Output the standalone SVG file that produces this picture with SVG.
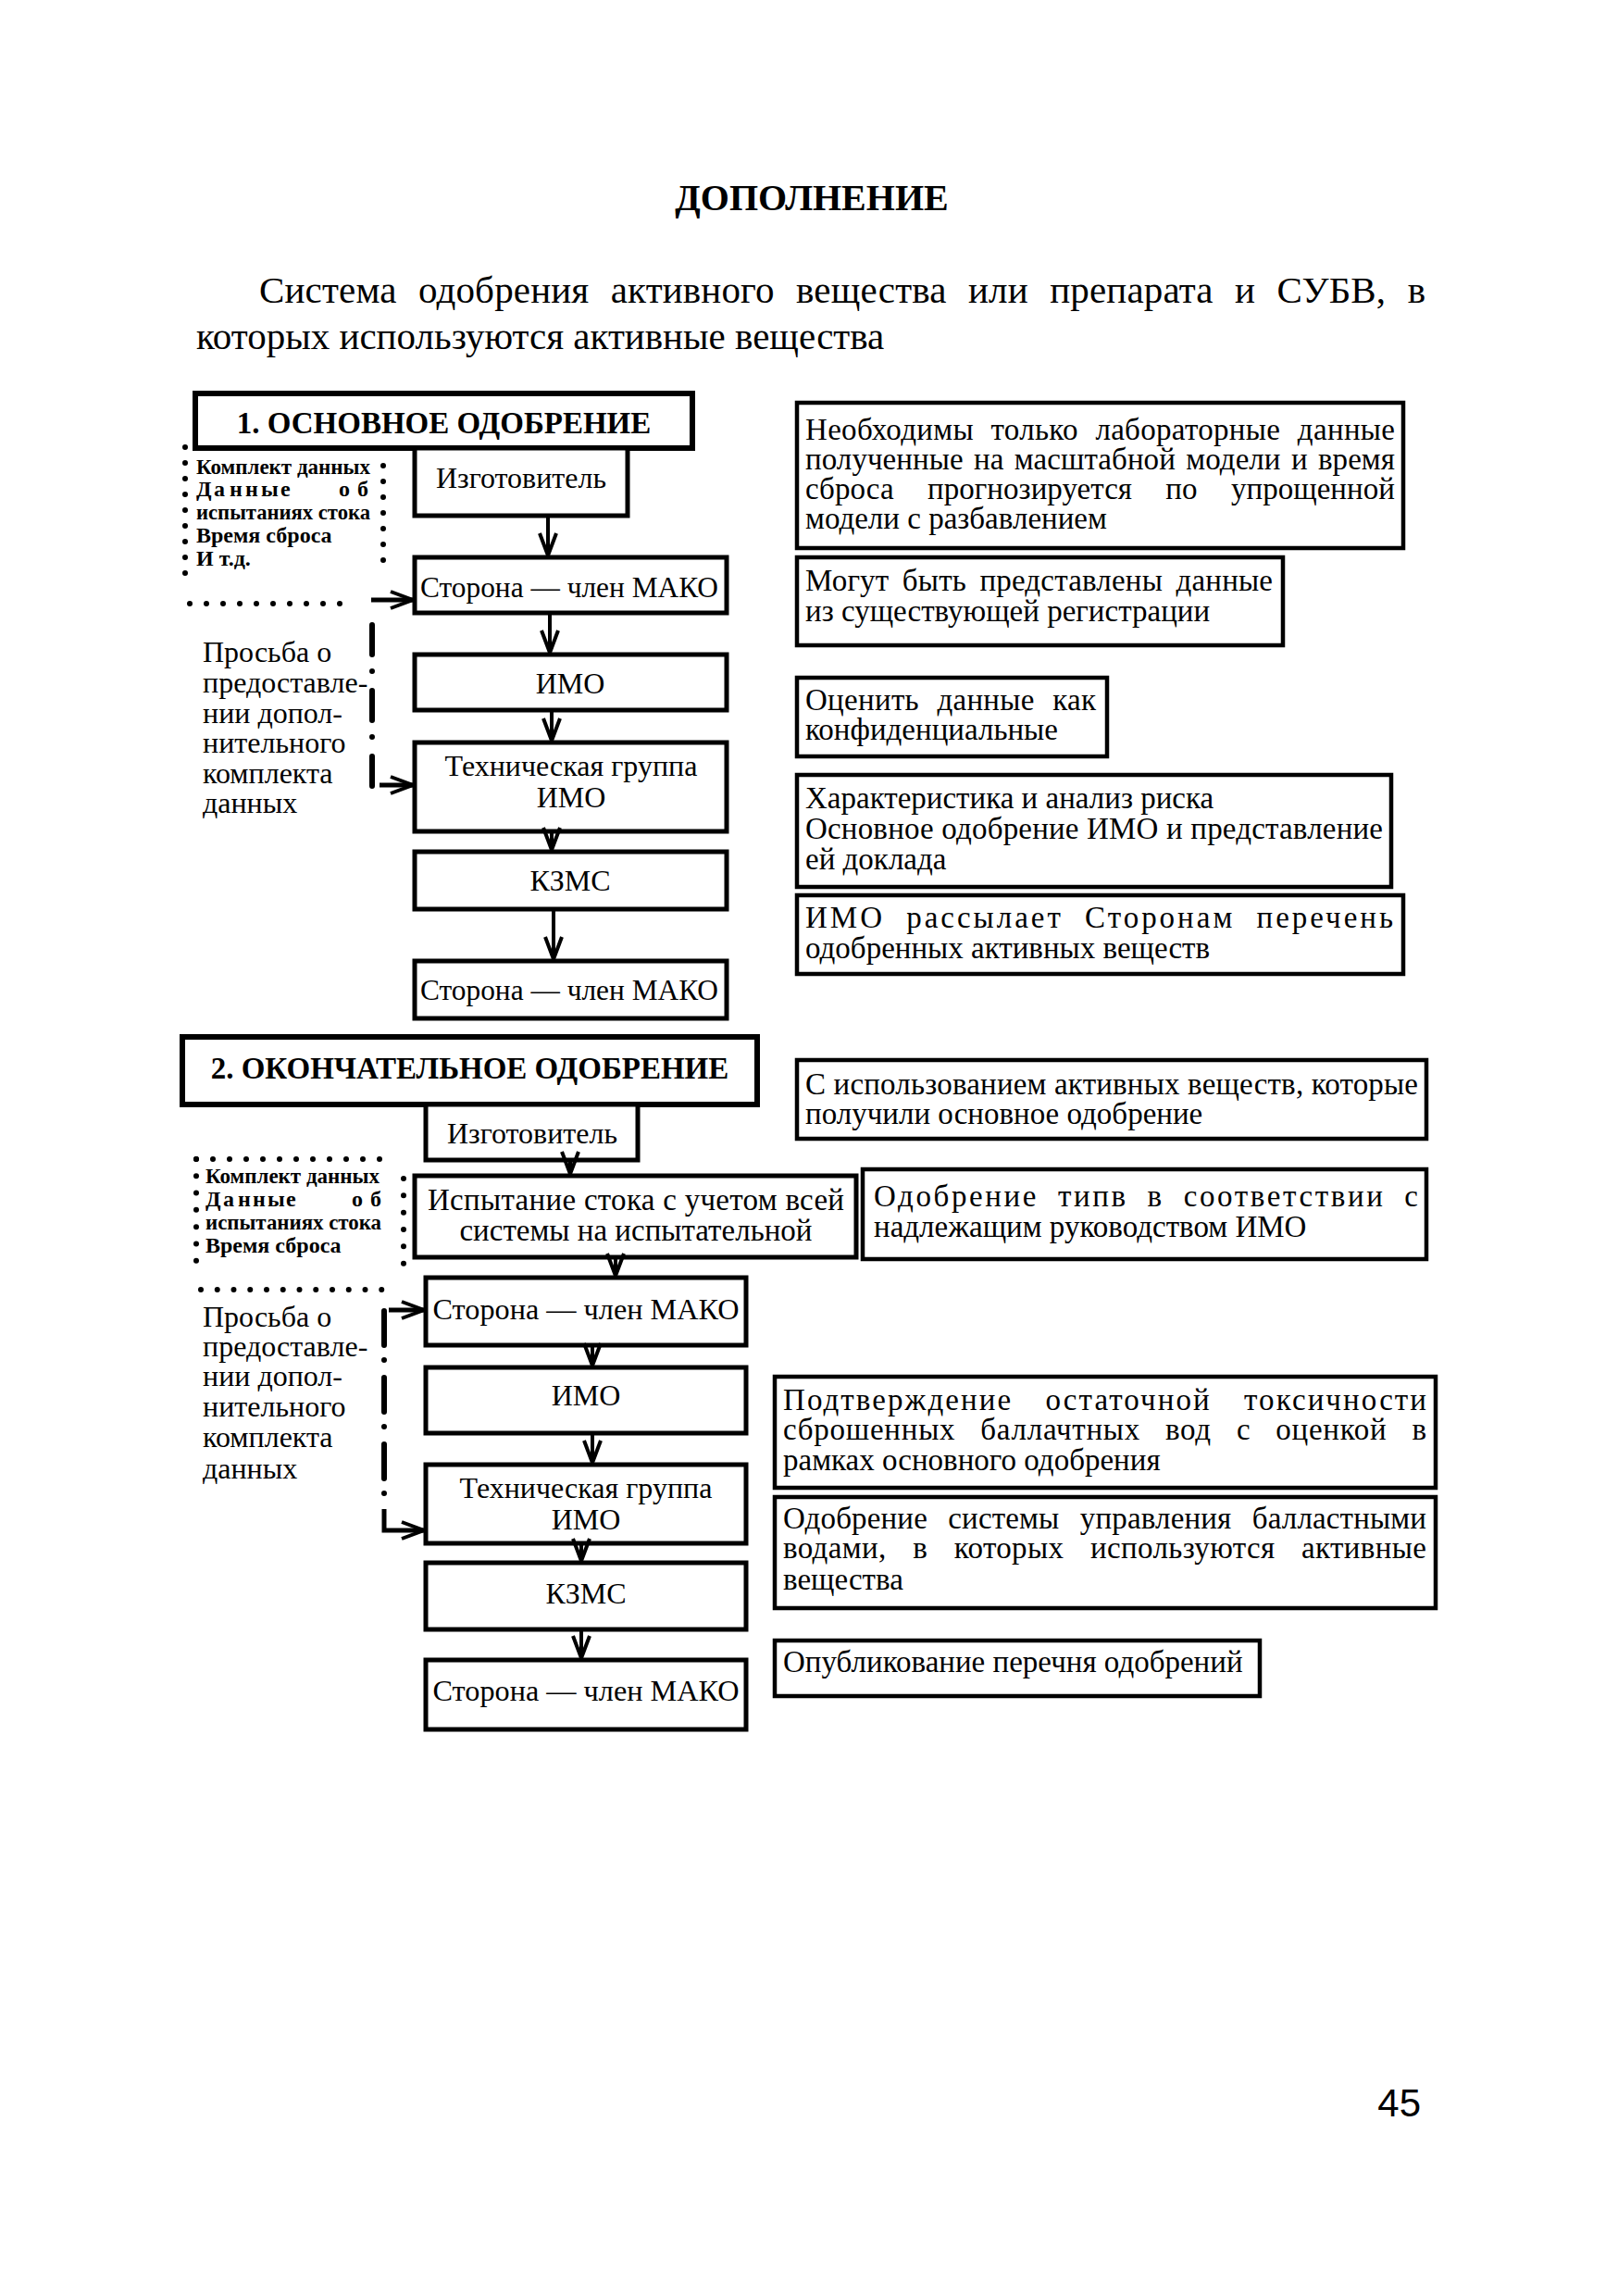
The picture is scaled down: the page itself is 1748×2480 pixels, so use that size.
<svg xmlns="http://www.w3.org/2000/svg" width="1748" height="2480" viewBox="0 0 1748 2480">
<style>
.bg{fill:#fff}
.box{fill:#fff;stroke:#000;stroke-width:5}
.hbox{fill:#fff;stroke:#000;stroke-width:6}
.rbox{fill:#fff;stroke:#000;stroke-width:4.5}
text{font-family:"Liberation Serif","Times New Roman",serif;fill:#000}
.t{font-size:32px}
.r{font-size:33px}
.c{text-anchor:middle}
.hd{font-size:33px;font-weight:bold;text-anchor:middle}
.sm{font-size:24px;font-weight:bold}
.conn{stroke:#000;stroke-width:4;fill:none}
.dots{stroke:#000;stroke-width:6;stroke-linecap:round;stroke-dasharray:0 1;fill:none}
.dd1{stroke:#000;stroke-width:6;stroke-linecap:round;stroke-dasharray:32 18 0 21;fill:none}
.dd2{stroke:#000;stroke-width:6;stroke-linecap:round;stroke-dasharray:37 16 0 19;fill:none}
.thick{stroke:#000;stroke-width:5;fill:none}
</style>
<defs>
<marker id="arr" markerUnits="userSpaceOnUse" markerWidth="30" markerHeight="24" viewBox="0 0 30 24" refX="27" refY="12" orient="auto">
<path d="M3,3 L27,12 L3,21" fill="none" stroke="#000" stroke-width="4"/>
</marker>
</defs>
<rect class="bg" x="0" y="0" width="1748" height="2480"/>

<g id="title">
<text x="877" y="227" font-size="40" font-weight="bold" text-anchor="middle">ДОПОЛНЕНИЕ</text>
</g>
<g id="intro">
<text x="280" y="327" font-size="41" word-spacing="13" textLength="1260" lengthAdjust="spacing">Система одобрения активного вещества или препарата и СУБВ, в</text>
<text x="212" y="377" font-size="41">которых используются активные вещества</text>
</g>

<!-- SECTION 1 -->
<g id="s1-heading">
<rect class="hbox" x="211" y="425" width="537" height="59"/>
<text class="hd" x="479.5" y="468">1. ОСНОВНОЕ ОДОБРЕНИЕ</text>
</g>
<g id="s1-izg">
<rect class="box" x="448" y="484" width="230" height="73"/>
<text class="t c" x="563" y="527">Изготовитель</text>
</g>
<g id="s1-storona1">
<rect class="box" x="448" y="602" width="337" height="60"/>
<text class="t c" x="615" y="645" textLength="322" lengthAdjust="spacingAndGlyphs">Сторона — член МАКО</text>
</g>
<g id="s1-imo">
<rect class="box" x="448" y="707" width="337" height="60"/>
<text class="t c" x="616" y="749">ИМО</text>
</g>
<g id="s1-tech">
<rect class="box" x="448" y="802" width="337" height="96"/>
<text class="t c" x="617" y="838">Техническая группа</text>
<text class="t c" x="617" y="872">ИМО</text>
</g>
<g id="s1-kzms">
<rect class="box" x="448" y="920" width="337" height="62"/>
<text class="t c" x="616" y="962">КЗМС</text>
</g>
<g id="s1-storona2">
<rect class="box" x="448" y="1038" width="337" height="62"/>
<text class="t c" x="615" y="1080" textLength="322" lengthAdjust="spacingAndGlyphs">Сторона — член МАКО</text>
</g>
<g id="s1-data">
<path class="dots" d="M200,483 V636" pathLength="9"/>
<path class="dots" d="M205,652 H385" pathLength="10"/>
<path class="dots" d="M414,503 V622" pathLength="7"/>
<text class="sm" x="212" y="512" textLength="188" lengthAdjust="spacingAndGlyphs">Комплект данных</text>
<text class="sm" x="212 229 231 244 248 262 265 279 282 301 303 330 366 378 386" y="536">Д а н н ы е о б</text>
<text class="sm" x="212" y="561" textLength="188" lengthAdjust="spacingAndGlyphs">испытаниях стока</text>
<text class="sm" x="212" y="586">Время сброса</text>
<text class="sm" x="212" y="611">И т.д.</text>
</g>
<g id="s1-request">
<text class="t" x="219" y="715">Просьба о</text>
<text class="t" x="219" y="748">предоставле-</text>
<text class="t" x="219" y="781">нии допол-</text>
<text class="t" x="219" y="813">нительного</text>
<text class="t" x="219" y="846">комплекта</text>
<text class="t" x="219" y="878">данных</text>
</g>

<g id="s1-noteA">
<rect class="rbox" x="861" y="435" width="655" height="157"/>
<text class="r" x="870" y="475" word-spacing="10" textLength="637" lengthAdjust="spacing">Необходимы только лабораторные данные</text>
<text class="r" x="870" y="507" word-spacing="3" textLength="637" lengthAdjust="spacing">полученные на масштабной модели и время</text>
<text class="r" x="870" y="539" word-spacing="28" textLength="637" lengthAdjust="spacing">сброса прогнозируется по упрощенной</text>
<text class="r" x="870" y="571">модели с разбавлением</text>
</g>
<g id="s1-noteB">
<rect class="rbox" x="861" y="602" width="525" height="95"/>
<text class="r" x="870" y="638" word-spacing="6" textLength="505" lengthAdjust="spacing">Могут быть представлены данные</text>
<text class="r" x="870" y="671">из существующей регистрации</text>
</g>
<g id="s1-noteC">
<rect class="rbox" x="861" y="732" width="335" height="85"/>
<text class="r" x="870" y="767" word-spacing="11" textLength="314" lengthAdjust="spacing">Оценить данные как</text>
<text class="r" x="870" y="799">конфиденциальные</text>
</g>
<g id="s1-noteD">
<rect class="rbox" x="861" y="837" width="642" height="121"/>
<text class="r" x="870" y="873">Характеристика и анализ риска</text>
<text class="r" x="870" y="906" textLength="624" lengthAdjust="spacing">Основное одобрение ИМО и представление</text>
<text class="r" x="870" y="939">ей доклада</text>
</g>
<g id="s1-noteE">
<rect class="rbox" x="861" y="967" width="655" height="85"/>
<text class="r" x="870" y="1002" word-spacing="12" textLength="635" lengthAdjust="spacing">ИМО рассылает Сторонам перечень</text>
<text class="r" x="870" y="1035">одобренных активных веществ</text>
</g>

<!-- SECTION 2 -->
<g id="s2-heading">
<rect class="hbox" x="197" y="1120" width="621" height="73"/>
<text class="hd" x="507.5" y="1165">2. ОКОНЧАТЕЛЬНОЕ ОДОБРЕНИЕ</text>
</g>
<g id="s2-izg">
<rect class="box" x="460" y="1193" width="229" height="60"/>
<text class="t c" x="575" y="1235">Изготовитель</text>
</g>
<g id="s2-test">
<rect class="box" x="448" y="1270" width="477" height="88"/>
<text class="r c" x="687" y="1307" textLength="450" lengthAdjust="spacing">Испытание стока с учетом всей</text>
<text class="r c" x="687" y="1340">системы на испытательной</text>
</g>
<g id="s2-storona1">
<rect class="box" x="460" y="1380" width="346" height="73"/>
<text class="t c" x="633" y="1425" textLength="331" lengthAdjust="spacingAndGlyphs">Сторона — член МАКО</text>
</g>
<g id="s2-imo">
<rect class="box" x="460" y="1477" width="346" height="71"/>
<text class="t c" x="633" y="1518">ИМО</text>
</g>
<g id="s2-tech">
<rect class="box" x="460" y="1582" width="346" height="85"/>
<text class="t c" x="633" y="1618">Техническая группа</text>
<text class="t c" x="633" y="1652">ИМО</text>
</g>
<g id="s2-kzms">
<rect class="box" x="460" y="1688" width="346" height="72"/>
<text class="t c" x="633" y="1732">КЗМС</text>
</g>
<g id="s2-storona2">
<rect class="box" x="460" y="1793" width="346" height="75"/>
<text class="t c" x="633" y="1837" textLength="331" lengthAdjust="spacingAndGlyphs">Сторона — член МАКО</text>
</g>
<g id="s2-data">
<path class="dots" d="M212,1252 H428" pathLength="12"/>
<path class="dots" d="M212,1252 V1380" pathLength="7"/>
<path class="dots" d="M217,1393 H430" pathLength="12"/>
<path class="dots" d="M436,1273 V1383" pathLength="6"/>
<text class="sm" x="222" y="1278" textLength="188" lengthAdjust="spacingAndGlyphs">Комплект данных</text>
<text class="sm" x="222 239 241 254 257 270 273 286 289 307 309 340 380 392 400" y="1303">Д а н н ы е о б</text>
<text class="sm" x="222" y="1328" textLength="190" lengthAdjust="spacingAndGlyphs">испытаниях стока</text>
<text class="sm" x="222" y="1353">Время сброса</text>
</g>
<g id="s2-request">
<text class="t" x="219" y="1433">Просьба о</text>
<text class="t" x="219" y="1465">предоставле-</text>
<text class="t" x="219" y="1497">нии допол-</text>
<text class="t" x="219" y="1530">нительного</text>
<text class="t" x="219" y="1563">комплекта</text>
<text class="t" x="219" y="1597">данных</text>
</g>

<g id="s2-noteF">
<rect class="rbox" x="861" y="1145" width="680" height="85"/>
<text class="r" x="870" y="1182" textLength="662" lengthAdjust="spacing">С использованием активных веществ, которые</text>
<text class="r" x="870" y="1214">получили основное одобрение</text>
</g>
<g id="s2-noteG">
<rect class="rbox" x="932" y="1263" width="609" height="97"/>
<text class="r" x="944" y="1303" word-spacing="10" textLength="588" lengthAdjust="spacing">Одобрение типв в соответствии с</text>
<text class="r" x="944" y="1336">надлежащим руководством ИМО</text>
</g>
<g id="s2-noteH">
<rect class="rbox" x="837" y="1487" width="714" height="120"/>
<text class="r" x="846" y="1523" word-spacing="25" textLength="695" lengthAdjust="spacing">Подтверждение остаточной токсичности</text>
<text class="r" x="846" y="1555" word-spacing="18" textLength="695" lengthAdjust="spacing">сброшенных баллачтных вод с оценкой в</text>
<text class="r" x="846" y="1588">рамках основного одобрения</text>
</g>
<g id="s2-noteI">
<rect class="rbox" x="837" y="1617" width="714" height="120"/>
<text class="r" x="846" y="1651" word-spacing="14" textLength="695" lengthAdjust="spacing">Одобрение системы управления балластными</text>
<text class="r" x="846" y="1683" word-spacing="20" textLength="695" lengthAdjust="spacing">водами, в которых используются активные</text>
<text class="r" x="846" y="1717">вещества</text>
</g>
<g id="s2-noteJ">
<rect class="rbox" x="837" y="1772" width="524" height="60"/>
<text class="r" x="846" y="1806">Опубликование перечня одобрений</text>
</g>

<g id="connectors">
<path class="conn" d="M592,557 V600" marker-end="url(#arr)"/>
<path class="conn" d="M594,662 V705" marker-end="url(#arr)"/>
<path class="conn" d="M596,767 V800" marker-end="url(#arr)"/>
<path class="conn" d="M596,898 V918" marker-end="url(#arr)"/>
<path class="conn" d="M598,982 V1036" marker-end="url(#arr)"/>
<path class="thick" d="M401,648 H446" marker-end="url(#arr)"/>
<path class="dd1" d="M402,675 V850"/>
<path class="thick" d="M410,848 H446" marker-end="url(#arr)"/>

<path class="conn" d="M616,1253 V1268" marker-end="url(#arr)"/>
<path class="conn" d="M665,1358 V1378" marker-end="url(#arr)"/>
<path class="conn" d="M640,1453 V1475" marker-end="url(#arr)"/>
<path class="conn" d="M640,1548 V1580" marker-end="url(#arr)"/>
<path class="conn" d="M628,1667 V1686" marker-end="url(#arr)"/>
<path class="conn" d="M628,1760 V1791" marker-end="url(#arr)"/>
<path class="thick" d="M420,1415 H458" marker-end="url(#arr)"/>
<path class="dd2" d="M415,1416 V1614"/>
<path class="thick" d="M415,1630 V1653 H458" marker-end="url(#arr)"/>
</g>

<g id="page-number">
<text x="1535" y="2286" font-size="42" text-anchor="end" style="font-family:'Liberation Sans',Arial,sans-serif">45</text>
</g>
</svg>
